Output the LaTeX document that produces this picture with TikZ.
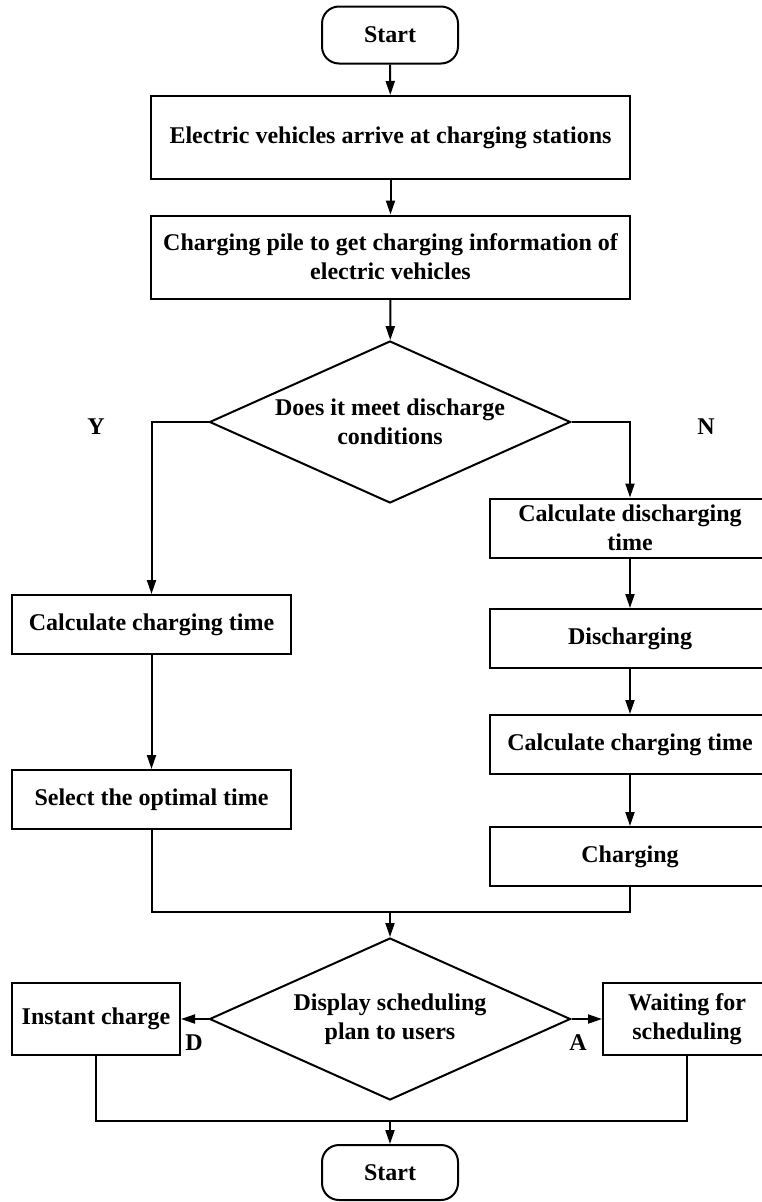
\documentclass[tikz,border=0pt]{standalone}
\usepackage{fontspec}
\setmainfont{Liberation Serif}
\usetikzlibrary{arrows.meta, positioning, shapes.geometric}

\begin{document}
\begin{tikzpicture}[
    x=1pt, y=-1pt,
    every node/.style={font=\fontsize{24}{29}\selectfont\bfseries},
    terminal/.style={draw, line width=2pt, rectangle, rounded corners=17pt, minimum width=136pt, minimum height=57pt, align=center},
    procbox/.style={draw, line width=2pt, rectangle, minimum width=279pt, minimum height=59pt, align=center, inner sep=2pt},
    decision/.style={draw, line width=2pt, diamond, aspect=2.23, minimum width=361pt, minimum height=162pt, inner sep=0pt, align=center},
    edge/.style={-{Triangle[length=14pt, width=9pt]}, line width=2pt},
    flow/.style={line width=2pt}
]
    \useasboundingbox (0,0) rectangle (761,1202);

    \node[terminal] (start) at (390,35) {Start};
    \node[procbox, minimum width=479pt, minimum height=83pt] (arrive) at (390.5,137.5) {Electric vehicles arrive at charging stations};
    \node[procbox, minimum width=479pt, minimum height=83pt] (pile) at (390.5,257) {Charging pile to get charging information of\\electric vehicles};
    \node[decision] (meet) at (390,422) {Does it meet discharge\\conditions};

    \node (yes) at (96,427) {Y};
    \node (no) at (706,427) {N};

    % left branch
    \node[procbox] (calcL) at (151.5,624.5) {Calculate charging time};
    \node[procbox] (optimal) at (151.5,799.5) {Select the optimal time};

    % right branch
    \node[procbox, minimum width=280pt] (calcD) at (630,528) {Calculate discharging\\time};
    \node[procbox, minimum width=280pt] (discharge) at (630,638.5) {Discharging};
    \node[procbox, minimum width=280pt] (calcR) at (630,744.5) {Calculate charging time};
    \node[procbox, minimum width=280pt] (charging) at (630,856.5) {Charging};

    \node[decision] (display) at (390,1019) {Display scheduling\\plan to users};
    \node[procbox, minimum width=168pt, minimum height=72pt] (instant) at (96,1019) {Instant charge};
    \node[procbox, minimum width=168pt, minimum height=72pt] (waiting) at (687,1019) {Waiting for\\scheduling};
    \node (dlabel) at (194,1043) {D};
    \node (alabel) at (578,1043) {A};

    \node[terminal, minimum height=55pt] (stop) at (390,1172.5) {Start};

    \coordinate (join) at (390,912);
    \coordinate (join2) at (390,1121);

    \draw[edge] (start) -- (arrive);
    \draw[edge] (arrive) -- (pile);
    \draw[edge] (pile) -- (meet);
    \draw[edge] (meet.west) -| (calcL.north);
    \draw[edge] (meet.east) -| (calcD.north);
    \draw[edge] (calcL) -- (optimal);
    \draw[edge] (calcD) -- (discharge);
    \draw[edge] (discharge) -- (calcR);
    \draw[edge] (calcR) -- (charging);

    \draw[flow] (optimal.south) |- (join);
    \draw[flow] (charging.south) |- (join);
    \draw[edge] (join) -- (display);

    \draw[edge] (display.west) -- (instant.east);
    \draw[edge] (display.east) -- (waiting.west);

    \draw[flow] (instant.south) |- (join2);
    \draw[flow] (waiting.south) |- (join2);
    \draw[edge] (join2) -- (stop);
\end{tikzpicture}
\end{document}
